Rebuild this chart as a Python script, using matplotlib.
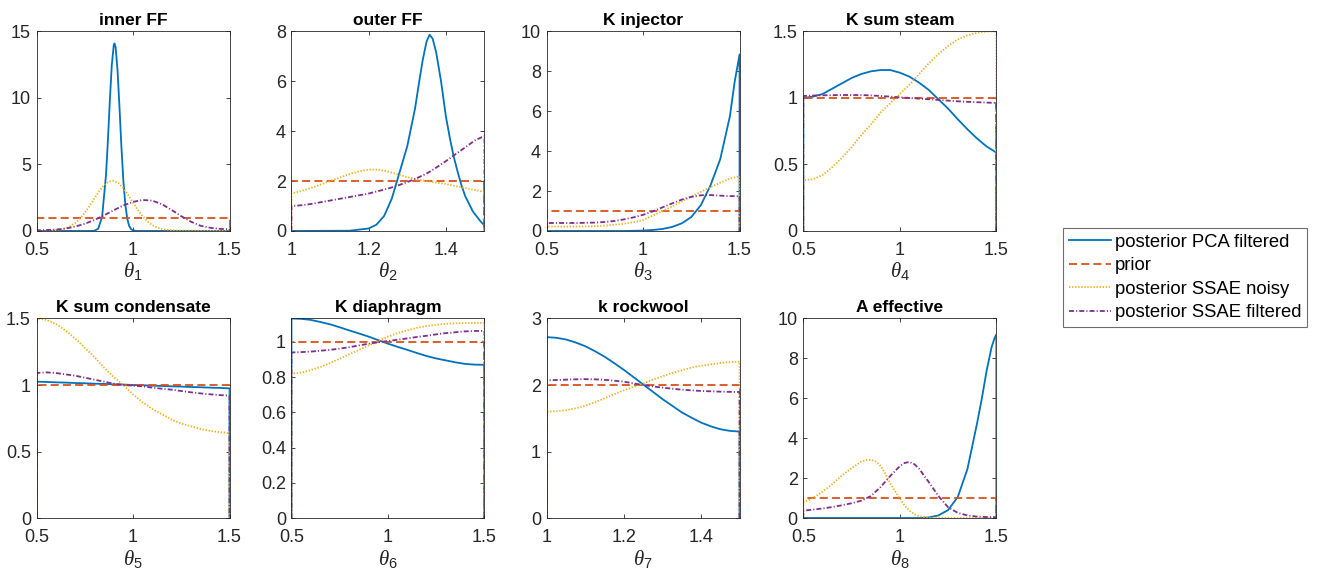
import matplotlib
matplotlib.use("Agg")
import matplotlib.pyplot as plt
import numpy as np
from matplotlib.ticker import FuncFormatter

plt.rcParams["font.family"] = ["Liberation Sans", "DejaVu Sans"]
plt.rcParams["mathtext.fontset"] = "custom"
plt.rcParams["mathtext.it"] = "Liberation Serif:italic"
plt.rcParams["mathtext.rm"] = "Liberation Sans"
plt.rcParams["lines.scale_dashes"] = False

# ---- data ----
titles = ["inner FF", "outer FF", "K injector", "K sum steam",
          "K sum condensate", "K diaphragm", "k rockwool", "A effective"]
x_ranges = [(0.5, 1.5), (1.0, 1.5), (0.5, 1.5), (0.5, 1.5),
            (0.5, 1.5), (0.5, 1.5), (1.0, 1.5), (0.5, 1.5)]
prior_levels = [1, 2, 1, 1, 1, 1, 2, 1]
y_tops = [15, 8, 10, 1.5, 1.5, 1.133, 3, 10]
y_steps = [5, 2, 2, 0.5, 0.5, 0.2, 1, 2]
legend_labels = ["posterior PCA filtered", "prior",
                 "posterior SSAE noisy", "posterior SSAE filtered"]

x_a = [0.5, 0.55, 0.6, 0.65, 0.7, 0.75, 0.8, 0.85, 0.9, 0.95, 1.0,
       1.05, 1.1, 1.15, 1.2, 1.25, 1.3, 1.35, 1.4, 1.45, 1.5]
x_b = [1.0, 1.025, 1.05, 1.075, 1.1, 1.125, 1.15, 1.175, 1.2, 1.225, 1.25,
       1.275, 1.3, 1.325, 1.35, 1.375, 1.4, 1.425, 1.45, 1.475, 1.5]

# inner FF
p1_pca_x = [0.5, 0.78, 0.80, 0.82, 0.84, 0.86, 0.87, 0.88, 0.89, 0.90, 0.904, 0.91,
            0.92, 0.93, 0.94, 0.95, 0.96, 0.97, 0.98, 0.99, 1.0, 1.02, 1.5]
p1_pca = [0, 0, 0.02, 0.17, 1.09, 4.21, 6.85, 9.84, 12.47, 13.96, 14.1, 13.79,
          12.02, 9.25, 6.28, 3.77, 1.99, 0.93, 0.38, 0.14, 0.05, 0, 0]
p1_noisy_x = [0.5, 0.55, 0.6, 0.65, 0.675, 0.7, 0.725, 0.75, 0.775, 0.8,
              0.825, 0.85, 0.875, 0.9, 0.925, 0.95, 0.975, 1.0, 1.025, 1.05,
              1.075, 1.1, 1.125, 1.15, 1.2, 1.25, 1.3, 1.4, 1.5]
p1_noisy = [0.0, 0.01, 0.05, 0.2, 0.35, 0.59, 0.92, 1.36, 1.88, 2.45,
            3.0, 3.45, 3.72, 3.77, 3.59, 3.21, 2.7, 2.13, 1.58, 1.1,
            0.72, 0.44, 0.26, 0.14, 0.05, 0.03, 0.02, 0.01, 0.01]
p1_ssae = [0.05, 0.07, 0.10, 0.18, 0.33, 0.54, 0.83, 1.18, 1.56, 1.92, 2.19,
           2.33, 2.28, 2.01, 1.58, 1.11, 0.70, 0.39, 0.24, 0.16, 0.13]

# outer FF
p2_pca_x = [1.0, 1.15, 1.2, 1.22, 1.24, 1.26, 1.28, 1.3, 1.32, 1.331, 1.34, 1.35,
            1.358, 1.366, 1.375, 1.3875, 1.4, 1.41, 1.42, 1.43, 1.44, 1.45,
            1.47, 1.49, 1.5]
p2_pca = [0, 0.01, 0.1, 0.25, 0.6, 1.3, 2.35, 3.4, 4.9, 6.0, 6.85, 7.6,
          7.87, 7.7, 7.15, 6.0, 4.6, 3.75, 3.0, 2.4, 1.85, 1.4,
          0.78, 0.38, 0.22]
p2_noisy = [1.5, 1.6, 1.72, 1.86, 2.0, 2.14, 2.28, 2.39, 2.46, 2.46, 2.38,
            2.27, 2.16, 2.07, 2.0, 1.94, 1.88, 1.8, 1.72, 1.64, 1.57]
p2_ssae = [1.0, 1.03, 1.08, 1.15, 1.22, 1.29, 1.36, 1.43, 1.5, 1.6, 1.7,
           1.82, 1.96, 2.12, 2.3, 2.54, 2.8, 3.08, 3.35, 3.63, 3.81]

# K injector
p3_pca_x = [0.5, 0.9, 1.0, 1.05, 1.1, 1.15, 1.2, 1.25, 1.3, 1.35, 1.4, 1.45,
            1.475, 1.49, 1.5]
p3_pca = [0, 0, 0.02, 0.05, 0.1, 0.2, 0.38, 0.7, 1.3, 2.3, 3.6, 5.75,
          7.5, 8.3, 8.85]
p3_noisy = [0.22, 0.22, 0.22, 0.22, 0.23, 0.24, 0.27, 0.31, 0.36, 0.44, 0.55,
            0.77, 1.0, 1.22, 1.48, 1.73, 1.96, 2.2, 2.42, 2.62, 2.75]
p3_ssae = [0.4, 0.4, 0.4, 0.4, 0.41, 0.42, 0.45, 0.5, 0.58, 0.68, 0.81,
           0.98, 1.18, 1.38, 1.57, 1.71, 1.79, 1.8, 1.77, 1.75, 1.74]

# K sum steam
p4_pca = [1.0, 1.01, 1.03, 1.07, 1.11, 1.15, 1.18, 1.2, 1.21, 1.21, 1.19,
          1.16, 1.115, 1.06, 0.99, 0.92, 0.84, 0.765, 0.695, 0.635, 0.59]
p4_noisy = [0.38, 0.39, 0.42, 0.48, 0.55, 0.63, 0.72, 0.8, 0.89, 0.96, 1.03,
            1.1, 1.18, 1.26, 1.33, 1.39, 1.44, 1.47, 1.49, 1.5, 1.5]
p4_ssae = [1.015, 1.018, 1.02, 1.021, 1.022, 1.022, 1.022, 1.019, 1.015, 1.01, 1.005,
           1.0, 0.995, 0.99, 0.985, 0.98, 0.975, 0.971, 0.968, 0.965, 0.963]

# K sum condensate
p5_pca = [1.025, 1.023, 1.02, 1.018, 1.015, 1.013, 1.01, 1.008, 1.005, 1.003, 1.0,
          0.998, 0.995, 0.993, 0.99, 0.988, 0.985, 0.983, 0.98, 0.978, 0.975]
p5_noisy = [1.5, 1.49, 1.46, 1.41, 1.35, 1.28, 1.21, 1.13, 1.06, 1.0, 0.93,
            0.87, 0.82, 0.78, 0.74, 0.71, 0.69, 0.67, 0.655, 0.645, 0.64]
p5_ssae = [1.09, 1.095, 1.09, 1.08, 1.07, 1.055, 1.04, 1.025, 1.01, 1.0, 0.995,
           0.99, 0.98, 0.972, 0.965, 0.955, 0.945, 0.937, 0.93, 0.924, 0.92]

# K diaphragm
p6_pca = [1.133, 1.131, 1.125, 1.113, 1.1, 1.083, 1.065, 1.048, 1.03, 1.01, 0.99,
          0.972, 0.955, 0.937, 0.92, 0.906, 0.895, 0.884, 0.875, 0.871, 0.87]
p6_noisy = [0.82, 0.825, 0.84, 0.858, 0.88, 0.905, 0.93, 0.955, 0.98, 1.005, 1.03,
            1.05, 1.065, 1.08, 1.09, 1.097, 1.103, 1.106, 1.107, 1.108, 1.108]
p6_ssae = [0.94, 0.942, 0.945, 0.95, 0.955, 0.962, 0.97, 0.98, 0.99, 0.998, 1.005,
           1.012, 1.02, 1.028, 1.035, 1.043, 1.05, 1.055, 1.06, 1.062, 1.063]

# k rockwool
p7_pca = [2.72, 2.71, 2.685, 2.64, 2.584, 2.51, 2.427, 2.33, 2.229, 2.12, 2.01,
          1.9, 1.79, 1.69, 1.59, 1.51, 1.436, 1.38, 1.335, 1.31, 1.3]
p7_noisy = [1.6, 1.605, 1.62, 1.65, 1.69, 1.74, 1.8, 1.86, 1.92, 1.97, 2.02,
            2.08, 2.13, 2.18, 2.22, 2.26, 2.29, 2.31, 2.33, 2.345, 2.35]
p7_ssae = [2.07, 2.075, 2.08, 2.085, 2.088, 2.085, 2.078, 2.065, 2.05, 2.025, 2.0,
           1.98, 1.96, 1.945, 1.93, 1.92, 1.91, 1.905, 1.9, 1.897, 1.895]

# A effective
p8_pca_x = [0.5, 1.1, 1.15, 1.2, 1.25, 1.3, 1.35, 1.4, 1.425, 1.45, 1.475, 1.49, 1.5]
p8_pca = [0, 0, 0.03, 0.13, 0.4, 1.05, 2.45, 4.74, 6.0, 7.4, 8.55, 9.0, 9.2]
p8_noisy_x = [0.5, 0.55, 0.6, 0.65, 0.7, 0.75, 0.8, 0.825, 0.85, 0.875, 0.9, 0.925,
              0.95, 0.975, 1.0, 1.025, 1.05, 1.075, 1.1, 1.15, 1.2, 1.3, 1.5]
p8_noisy = [0.78, 1.0, 1.32, 1.7, 2.13, 2.5, 2.83, 2.9, 2.92, 2.83, 2.62, 2.22,
            1.74, 1.35, 0.98, 0.62, 0.36, 0.19, 0.09, 0.02, 0.01, 0.0, 0.0]
p8_ssae_x = [0.5, 0.55, 0.6, 0.65, 0.7, 0.75, 0.8, 0.85, 0.9, 0.95, 1.0, 1.025,
             1.05, 1.075, 1.1, 1.15, 1.2, 1.25, 1.3, 1.35, 1.4, 1.45, 1.5]
p8_ssae = [0.37, 0.42, 0.48, 0.55, 0.64, 0.74, 0.87, 1.1, 1.55, 2.1, 2.6, 2.76,
           2.81, 2.7, 2.47, 1.8, 1.1, 0.54, 0.26, 0.13, 0.07, 0.05, 0.04]

pca = [(p1_pca_x, p1_pca), (p2_pca_x, p2_pca), (p3_pca_x, p3_pca), (x_a, p4_pca),
       (x_a, p5_pca), (x_a, p6_pca), (x_b, p7_pca), (p8_pca_x, p8_pca)]
noisy = [(p1_noisy_x, p1_noisy), (x_b, p2_noisy), (x_a, p3_noisy), (x_a, p4_noisy),
         (x_a, p5_noisy), (x_a, p6_noisy), (x_b, p7_noisy), (p8_noisy_x, p8_noisy)]
ssae = [(x_a, p1_ssae), (x_b, p2_ssae), (x_a, p3_ssae), (x_a, p4_ssae),
        (x_a, p5_ssae), (x_a, p6_ssae), (x_b, p7_ssae), (p8_ssae_x, p8_ssae)]

# ---- styling ----
dark = "#262626"
styles = [
    dict(color="#0072BD", lw=1.3, ls="-"),
    dict(color="#D95319", lw=1.3, dashes=(5.8, 3.0)),
    dict(color="#EDB120", lw=1.3, dashes=(1.0, 1.2)),
    dict(color="#7E2F8E", lw=1.3, dashes=(3.6, 1.5, 0.8, 1.5)),
]


def density(ax, x, y, style):
    # pdfs are drawn down to zero at the support edges
    xs = np.r_[x[0], x, x[-1]]
    ys = np.r_[0.0, y, 0.0]
    return ax.plot(xs, ys, **style)[0]


fig = plt.figure(figsize=(13.23, 5.75), dpi=100)
lefts = [0.0276, 0.2203, 0.4131, 0.6072]
bottoms = [0.5983, 0.0991]
w, h = 0.1459, 0.3470
fmt = FuncFormatter(lambda v, _: f"{v:g}")

handles = None
for i in range(8):
    ax = fig.add_axes([lefts[i % 4], bottoms[i // 4], w, h])
    lo, hi = x_ranges[i]
    hs = [density(ax, *pca[i], styles[0]),
          density(ax, [lo, hi], [prior_levels[i]] * 2, styles[1]),
          density(ax, *noisy[i], styles[2]),
          density(ax, *ssae[i], styles[3])]
    if handles is None:
        handles = hs
    ax.set_xlim(lo, hi)
    ax.set_ylim(0, y_tops[i])
    if hi - lo < 0.9:
        ax.set_xticks([1.0, 1.2, 1.4])
    else:
        ax.set_xticks([0.5, 1.0, 1.5])
    ax.set_yticks(np.arange(0, y_tops[i] + 1e-9, y_steps[i]))
    ax.xaxis.set_major_formatter(fmt)
    ax.yaxis.set_major_formatter(fmt)
    ax.tick_params(direction="in", top=True, right=True, length=3, width=0.6,
                   labelsize=13, colors=dark)
    ax.tick_params(axis="x", pad=8)
    ax.tick_params(axis="y", pad=4)
    for s in ax.spines.values():
        s.set_color(dark)
        s.set_linewidth(0.6)
    ax.set_title(titles[i], fontsize=12.5, fontweight="bold", color="black", pad=5)
    ax.set_xlabel(r"$\theta_{%d}$" % (i + 1), fontsize=15, color=dark, labelpad=1)

leg = fig.legend(handles, legend_labels, loc="upper left",
                 bbox_to_anchor=(0.8035, 0.6035), fontsize=13.3, frameon=True,
                 fancybox=False, framealpha=1, edgecolor="#6e6e6e",
                 handlelength=2.3, handletextpad=0.2, labelspacing=0.36,
                 borderpad=0.3, borderaxespad=0)
leg.get_frame().set_linewidth(0.8)

fig.savefig("out.png", dpi=100)
plt.close(fig)
